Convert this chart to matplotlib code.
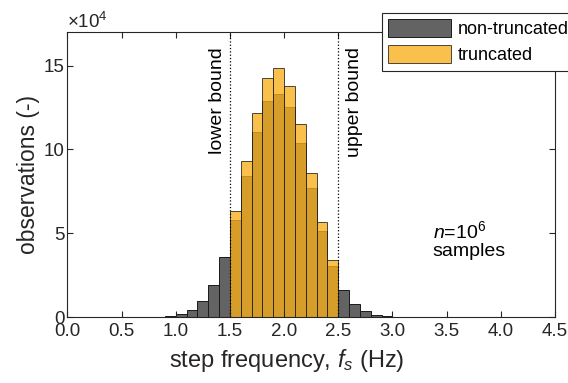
import numpy as np
import matplotlib.pyplot as plt
from matplotlib.ticker import FuncFormatter

plt.rcParams['font.family'] = ['Liberation Sans', 'DejaVu Sans']
plt.rcParams['mathtext.fontset'] = 'custom'
plt.rcParams['mathtext.rm'] = 'Liberation Sans'
plt.rcParams['mathtext.it'] = 'Liberation Sans:italic'

# histogram bins (left edges, Hz), width 0.1
full_left = [0.8, 0.9, 1.0, 1.1, 1.2, 1.3, 1.4,
             1.5, 1.6, 1.7, 1.8, 1.9, 2.0, 2.1, 2.2, 2.3, 2.4,
             2.5, 2.6, 2.7, 2.8, 2.9]
full_counts = [300, 600, 1500, 4400, 9500, 19300, 35500,
               57800, 84300, 110200, 128900, 133100, 125100, 104000, 77100, 51200, 30500,
               16000, 8000, 3600, 1400, 500]

trunc_left = [1.5, 1.6, 1.7, 1.8, 1.9, 2.0, 2.1, 2.2, 2.3, 2.4]
trunc_counts = [63300, 93000, 121900, 142400, 148400, 138000, 115100, 85700, 56800, 33900]

bin_w = 0.1
lower_bound = 1.5
upper_bound = 2.5
ink = '#262626'

fig = plt.figure(figsize=(5.68, 3.83), dpi=100)
ax = fig.add_axes([0.1188, 0.1723, 0.977 - 0.1188, 0.9164 - 0.1723])

h1 = ax.bar(full_left, full_counts, width=bin_w, align='edge',
            color='#636363', edgecolor='#1a1a1a', linewidth=0.7,
            label='non-truncated')
h2 = ax.bar(trunc_left, trunc_counts, width=bin_w, align='edge',
            color='#f8af18', alpha=0.78, edgecolor='#1a1a1a', linewidth=0.7,
            label='truncated')

ax.axvline(lower_bound, color='k', linestyle=':', linewidth=0.9)
ax.axvline(upper_bound, color='k', linestyle=':', linewidth=0.9)
ax.text(lower_bound - 0.04, 16.1e4, 'lower bound', rotation=90,
        ha='right', va='top', fontsize=14)
ax.text(upper_bound + 0.07, 16.1e4, 'upper bound', rotation=90,
        ha='left', va='top', fontsize=14)
ax.text(3.37, 4.6e4, '$n$=10$^6$\nsamples', ha='left', va='center',
        fontsize=14, linespacing=1.05)

ax.set_xlim(0, 4.5)
ax.set_ylim(0, 17e4)
ax.set_xticks(np.arange(0, 4.51, 0.5))
ax.set_yticks([0, 5e4, 10e4, 15e4])
ax.xaxis.set_major_formatter(FuncFormatter(lambda v, p: f'{v:.1f}'))
ax.yaxis.set_major_formatter(FuncFormatter(lambda v, p: f'{v / 1e4:.0f}'))
ax.tick_params(direction='in', top=True, right=True, labelsize=13.5,
               colors=ink, length=4, width=0.8)
ax.tick_params(axis='x', pad=4.5)
ax.tick_params(axis='y', pad=2)
for s in ax.spines.values():
    s.set_color(ink)
    s.set_linewidth(0.8)
ax.text(0, 1.0, r'$\times$10$^4$', transform=ax.transAxes,
        ha='left', va='bottom', fontsize=13.5, color=ink)

ax.set_xlabel('step frequency, $f_s$ (Hz)', fontsize=17, color=ink)
ax.xaxis.set_label_coords(0.45, -0.105)
ax.set_ylabel('observations (-)', fontsize=16.5, color=ink, labelpad=3)

leg = fig.legend(handles=[h1, h2], loc='upper left', bbox_to_anchor=(0.6725, 0.967),
                 fontsize=13, frameon=True, fancybox=False, edgecolor=ink,
                 framealpha=1, handlelength=3.5, handleheight=1.15,
                 labelspacing=0.4, borderpad=0.35, handletextpad=0.35,
                 borderaxespad=0)
leg.get_frame().set_linewidth(0.8)

fig.savefig('out.png', dpi=100)
